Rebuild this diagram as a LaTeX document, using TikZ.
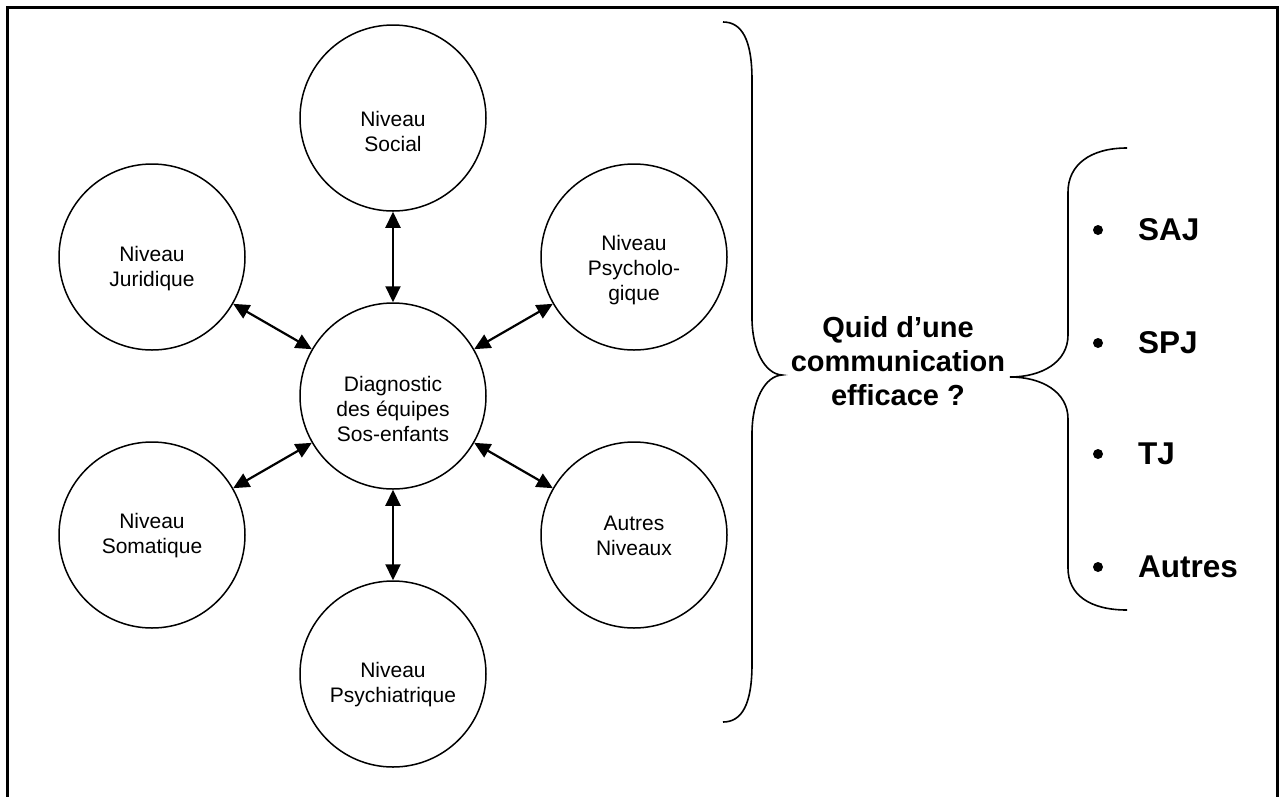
\documentclass[tikz,border=0pt]{standalone}
\usepackage{fontspec}
\setmainfont{Liberation Sans}
\usetikzlibrary{arrows.meta}
\tikzset{
  lvl/.style={circle, draw, line width=1.5pt, minimum size=186pt, inner sep=0pt},
  lbl/.style={align=center, inner sep=0pt, font=\fontsize{21}{25}\selectfont},
  link/.style={line width=2.2pt, {Triangle[length=16pt,width=15pt]}-{Triangle[length=16pt,width=15pt]}},
  bracestyle/.style={line width=1.6pt},
  bigtxt/.style={align=center, inner sep=0pt, font=\fontsize{29}{34}\selectfont\bfseries},
  item/.style={anchor=west, inner sep=0pt, font=\fontsize{31.5}{36}\selectfont\bfseries},
  dot/.style={circle, fill, inner sep=0pt, minimum size=10pt}
}
\begin{document}
\begin{tikzpicture}[x=1pt,y=-1pt]
\useasboundingbox (0,0) rectangle (1280,796);
% frame
\draw[line width=3pt] (7.5,805) -- (7.5,7) -- (1277.5,7) -- (1277.5,805);
% circles
\node[lvl] (diag) at (393,396) {};
\node[lvl] (social) at (393,118) {};
\node[lvl] (psychiat) at (393,674) {};
\node[lvl] (jur) at (152,257) {};
\node[lvl] (psycho) at (634,257) {};
\node[lvl] (soma) at (152,535) {};
\node[lvl] (autres) at (634,535) {};
% labels
\node[lbl] (diagT) at (393,409) {Diagnostic\\des équipes\\Sos-enfants};
\node[lbl] (socialT) at (393,131) {Niveau\\Social};
\node[lbl] (psychiatT) at (393,685) {Niveau\\Psychiatrique};
\node[lbl] (jurT) at (152,269) {Niveau\\Juridique};
\node[lbl] (psychoT) at (634,270) {Niveau\\Psycholo-\\gique};
\node[lbl] (somaT) at (152,536) {Niveau\\Somatique};
\node[lbl] (autresT) at (634,536) {Autres\\Niveaux};
% links
\draw[link] (social) -- (diag);
\draw[link] (psychiat) -- (diag);
\draw[link] (jur) -- (diag);
\draw[link] (psycho) -- (diag);
\draw[link] (soma) -- (diag);
\draw[link] (autres) -- (diag);
% big brace
\draw[bracestyle] (723,22) .. controls (742,22) and (752,40) .. (752,80) -- (752,318)
  .. controls (752,350) and (765,374) .. (782,375)
  .. controls (765,376) and (752,400) .. (752,434) -- (752,664)
  .. controls (752,704) and (742,722) .. (723,722);
% question
\node[bigtxt] (quid) at (898,361) {Quid d’une\\communication\\efficace ?};
% small brace
\draw[bracestyle] (1127,148) .. controls (1090,148) and (1068,165) .. (1068,192) -- (1068,335)
  .. controls (1068,362) and (1042,377) .. (1010,377)
  .. controls (1042,377) and (1068,392) .. (1068,419) -- (1068,568)
  .. controls (1068,595) and (1090,610) .. (1127,610);
% bullets
\node[dot] (d1) at (1098,230) {};
\node[dot] (d2) at (1098,343) {};
\node[dot] (d3) at (1098,454) {};
\node[dot] (d4) at (1098,567) {};
\node[item] (saj) at (1138,230) {SAJ};
\node[item] (spj) at (1138,343) {SPJ};
\node[item] (tj) at (1138,454) {TJ};
\node[item] (aut) at (1138,567) {Autres};
\end{tikzpicture}
\end{document}
